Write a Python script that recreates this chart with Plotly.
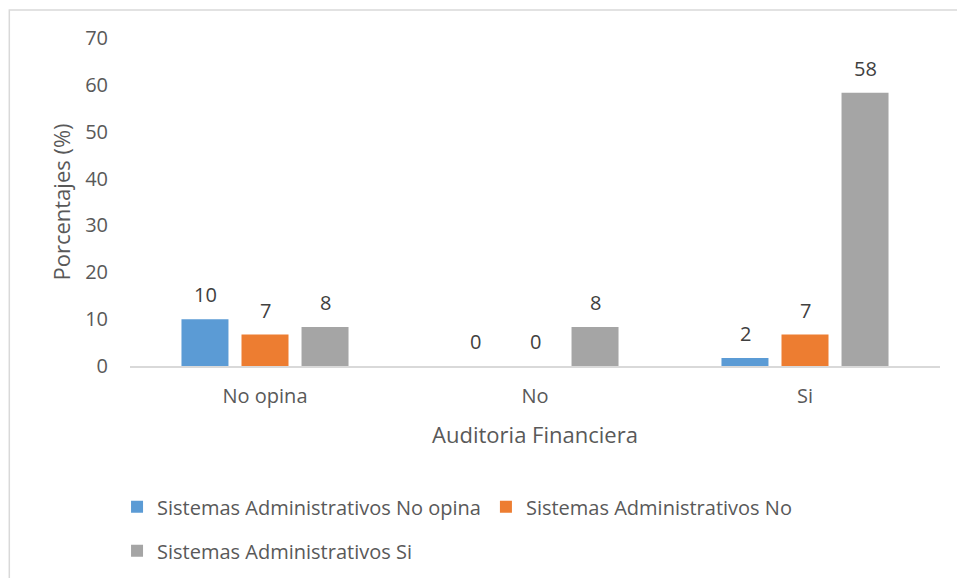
import plotly.graph_objects as go

categories = ["No opina", "No", "Si"]
series_names = ["Sistemas Administrativos No opina", "Sistemas Administrativos No", "Sistemas Administrativos Si"]
vals_no_opina = [10.0, 0.0, 1.7]
vals_no = [6.7, 0.0, 6.7]
vals_si = [8.3, 8.3, 58.3]
colors = ["#5B9BD5", "#ED7D31", "#A5A5A5"]
y_ticks = [0, 10, 20, 30, 40, 50, 60, 70]

FONT = "Open Sans"
TXT = "#404040"
AX = "#595959"

fig = go.Figure()
all_vals = [vals_no_opina, vals_no, vals_si]
legend_ids = ["legend", "legend", "legend2"]
for name, vals, col, lg in zip(series_names, all_vals, colors, legend_ids):
    fig.add_trace(go.Bar(
        x=categories, y=vals, name=name, legend=lg,
        marker=dict(color=col, line=dict(width=0)),
    ))

# value labels above bars
offsets = [-60, 0, 60]
annotations = []
for vals, off in zip(all_vals, offsets):
    for cat, v in zip(categories, vals):
        annotations.append(dict(
            x=cat, y=v, xref="x", yref="y", text=f"{v:.0f}", showarrow=False,
            xshift=off, yshift=9, yanchor="bottom",
            font=dict(size=20, color=TXT, family=FONT),
        ))

legend_common = dict(orientation="h", xanchor="left", yanchor="top",
                     font=dict(size=20, color=AX), itemwidth=30, tracegroupgap=0,
                     bgcolor="rgba(0,0,0,0)")

fig.update_layout(
    width=957, height=578,
    margin=dict(l=130, r=17, t=38, b=212, autoexpand=False),
    paper_bgcolor="white", plot_bgcolor="white",
    barmode="group", bargap=0.333, bargroupgap=0.217,
    font=dict(family=FONT, color=AX, size=18),
    annotations=annotations,
    xaxis=dict(
        showline=True, linecolor="#D9D9D9", linewidth=1.5, showgrid=False,
        tickfont=dict(size=20, color=AX), ticks="outside", ticklen=11, tickcolor="rgba(0,0,0,0)",
        title=dict(text="Auditoria Financiera", font=dict(size=22, color=AX), standoff=20),
    ),
    yaxis=dict(
        range=[0, 70], tickvals=y_ticks, showgrid=False, zeroline=False, showline=False,
        tickfont=dict(size=20, color=AX), ticks="outside", ticklen=17, tickcolor="rgba(0,0,0,0)",
        title=dict(text="Porcentajes (%)", font=dict(size=22, color=AX), standoff=8),
    ),
    legend=dict(x=-0.016, y=-0.370, **legend_common),
    legend2=dict(x=-0.016, y=-0.504, **legend_common),
    showlegend=True,
    shapes=[dict(type="rect", xref="paper", yref="paper", x0=-0.149, x1=1.1, y0=-1.0, y1=1.085,
                 line=dict(color="#D9D9D9", width=1.5), fillcolor="rgba(0,0,0,0)", layer="below")],
)

fig.write_html("out.html", config={"displayModeBar": False},
               post_script="document.body.style.margin='0px';")
